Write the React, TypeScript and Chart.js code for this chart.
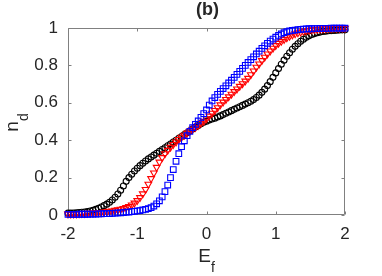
import React, { useEffect, useRef } from 'react';
import { Chart, registerables } from 'chart.js';

Chart.register(...registerables);

// Fermi level E_f (x values)
const E = [
  -2.0, -1.96, -1.92, -1.88, -1.84, -1.8, -1.76, -1.72, -1.68, -1.64,
  -1.6, -1.56, -1.52, -1.48, -1.44, -1.4, -1.36, -1.32, -1.28, -1.24,
  -1.2, -1.16, -1.12, -1.08, -1.04, -1.0, -0.96, -0.92, -0.88, -0.84,
  -0.8, -0.76, -0.72, -0.68, -0.64, -0.6, -0.56, -0.52, -0.48, -0.44,
  -0.4, -0.36, -0.32, -0.28, -0.24, -0.2, -0.16, -0.12, -0.08, -0.04,
  0.0,
  0.04, 0.08, 0.12, 0.16, 0.2, 0.24, 0.28, 0.32, 0.36, 0.4,
  0.44, 0.48, 0.52, 0.56, 0.6, 0.64, 0.68, 0.72, 0.76, 0.8,
  0.84, 0.88, 0.92, 0.96, 1.0, 1.04, 1.08, 1.12, 1.16, 1.2,
  1.24, 1.28, 1.32, 1.36, 1.4, 1.44, 1.48, 1.52, 1.56, 1.6,
  1.64, 1.68, 1.72, 1.76, 1.8, 1.84, 1.88, 1.92, 1.96, 2.0,
];

// n_d, black circles
const nBlack = [
  0.010, 0.010, 0.011, 0.012, 0.013, 0.015, 0.016, 0.018, 0.021, 0.025,
  0.030, 0.036, 0.043, 0.050, 0.058, 0.068, 0.080, 0.095, 0.112, 0.132,
  0.155, 0.180, 0.200, 0.218, 0.235, 0.250, 0.264, 0.277, 0.289, 0.300,
  0.310, 0.320, 0.330, 0.340, 0.350, 0.360, 0.370, 0.380, 0.390, 0.400,
  0.410, 0.420, 0.430, 0.440, 0.450, 0.460, 0.470, 0.479, 0.488, 0.496,
  0.502,
  0.508, 0.513, 0.518, 0.524, 0.530, 0.537, 0.544, 0.551, 0.558, 0.565,
  0.572, 0.579, 0.586, 0.593, 0.600, 0.608, 0.617, 0.628, 0.641, 0.656,
  0.673, 0.692, 0.713, 0.736, 0.760, 0.783, 0.806, 0.828, 0.849, 0.868,
  0.886, 0.902, 0.916, 0.929, 0.940, 0.950, 0.958, 0.965, 0.970, 0.975,
  0.978, 0.981, 0.983, 0.985, 0.986, 0.987, 0.988, 0.989, 0.990, 0.990,
];

// n_d, red triangles
const nRed = [
  0.005, 0.005, 0.006, 0.006, 0.007, 0.008, 0.008, 0.009, 0.010, 0.011,
  0.012, 0.013, 0.014, 0.016, 0.018, 0.020, 0.022, 0.025, 0.028, 0.031,
  0.035, 0.040, 0.046, 0.054, 0.064, 0.077, 0.093, 0.113, 0.137, 0.165,
  0.195, 0.225, 0.255, 0.283, 0.307, 0.328, 0.346, 0.362, 0.377, 0.391,
  0.404, 0.416, 0.427, 0.438, 0.448, 0.458, 0.468, 0.479, 0.490, 0.502,
  0.515,
  0.529, 0.544, 0.559, 0.574, 0.589, 0.604, 0.618, 0.632, 0.646, 0.660,
  0.674, 0.688, 0.702, 0.716, 0.731, 0.750, 0.770, 0.790, 0.808, 0.826,
  0.844, 0.861, 0.877, 0.892, 0.906, 0.918, 0.929, 0.939, 0.948, 0.956,
  0.963, 0.969, 0.974, 0.978, 0.982, 0.985, 0.988, 0.990, 0.992, 0.993,
  0.994, 0.995, 0.996, 0.997, 0.997, 0.998, 0.998, 0.999, 0.999, 0.999,
];

// n_d, blue squares
const nBlue = [
  0.003, 0.003, 0.003, 0.003, 0.004, 0.004, 0.004, 0.004, 0.005, 0.005,
  0.005, 0.006, 0.006, 0.007, 0.007, 0.008, 0.009, 0.010, 0.011, 0.012,
  0.013, 0.015, 0.016, 0.018, 0.020, 0.022, 0.024, 0.027, 0.030, 0.034,
  0.040, 0.048, 0.060, 0.076, 0.097, 0.125, 0.160, 0.200, 0.243, 0.287,
  0.328, 0.365, 0.397, 0.424, 0.447, 0.467, 0.485, 0.503, 0.522, 0.542,
  0.562,
  0.588, 0.610, 0.628, 0.645, 0.661, 0.676, 0.691, 0.706, 0.721, 0.736,
  0.752, 0.768, 0.784, 0.800, 0.816, 0.831, 0.846, 0.861, 0.876, 0.891,
  0.905, 0.918, 0.930, 0.941, 0.951, 0.960, 0.968, 0.975, 0.980, 0.984,
  0.987, 0.989, 0.991, 0.993, 0.994, 0.995, 0.996, 0.996, 0.997, 0.997,
  0.998, 0.998, 0.998, 0.998, 0.999, 0.999, 0.999, 0.999, 0.999, 0.999,
];

const xTicks = [-2, -1, 0, 1, 2];
const yTicks = [0, 0.2, 0.4, 0.6, 0.8, 1];
const titleText = '(b)';
const xTitle = { main: 'E', sub: 'f' };
const yTitle = { main: 'n', sub: 'd' };

const FONT = '"Liberation Sans", Arial, Helvetica, sans-serif';
const TEXT = '#262626';
const AXIS = '#808080';
const W = 382;
const H = 276;

export default function App() {
  const ref = useRef<HTMLCanvasElement>(null);

  useEffect(() => {
    const canvas = ref.current;
    if (!canvas) return;
    const pts = (ys: number[]) => E.map((x, i) => ({ x, y: ys[i] }));

    const decor = {
      id: 'decor',
      beforeDatasetsDraw(chart: any) {
        const { ctx, chartArea: a, scales } = chart;
        const L = Math.round(a.left) + 0.5;
        const R = Math.round(a.right) - 0.5;
        const T = Math.round(a.top) + 0.5;
        const B = Math.round(a.bottom) - 0.5;
        const len = 3;
        ctx.save();
        ctx.strokeStyle = AXIS;
        ctx.lineWidth = 1;
        ctx.beginPath();
        ctx.rect(L, T, R - L, B - T);
        xTicks.forEach((v) => {
          const px = Math.round(scales.x.getPixelForValue(v)) + 0.5;
          ctx.moveTo(px, B);
          ctx.lineTo(px, B - len);
          ctx.moveTo(px, T);
          ctx.lineTo(px, T + len);
        });
        yTicks.forEach((v) => {
          const py = Math.round(scales.y.getPixelForValue(v)) + 0.5;
          ctx.moveTo(L, py);
          ctx.lineTo(L + len, py);
          ctx.moveTo(R, py);
          ctx.lineTo(R - len, py);
        });
        ctx.stroke();
        ctx.restore();
      },
      afterDraw(chart: any) {
        const { ctx, chartArea: a } = chart;
        ctx.save();
        ctx.fillStyle = TEXT;
        ctx.textBaseline = 'alphabetic';
        // title
        ctx.font = `bold 18px ${FONT}`;
        ctx.textAlign = 'center';
        ctx.fillText(titleText, (a.left + a.right) / 2 + 1, 15);
        // x title with subscript
        ctx.textAlign = 'left';
        ctx.font = `19px ${FONT}`;
        const eW = ctx.measureText(xTitle.main).width;
        ctx.font = `14px ${FONT}`;
        const fW = ctx.measureText(xTitle.sub).width;
        const x0 = (a.left + a.right) / 2 - (eW + fW) / 2;
        ctx.font = `19px ${FONT}`;
        ctx.fillText(xTitle.main, x0, 262);
        ctx.font = `14px ${FONT}`;
        ctx.fillText(xTitle.sub, x0 + eW, 271.5);
        // y title with subscript (rotated)
        ctx.font = `19px ${FONT}`;
        const nW = ctx.measureText(yTitle.main).width;
        ctx.font = `14px ${FONT}`;
        const dW = ctx.measureText(yTitle.sub).width;
        const yc = (a.top + a.bottom) / 2 + 1;
        ctx.translate(18, yc + (nW + dW) / 2);
        ctx.rotate(-Math.PI / 2);
        ctx.font = `19px ${FONT}`;
        ctx.fillText(yTitle.main, 0, 0);
        ctx.font = `14px ${FONT}`;
        ctx.fillText(yTitle.sub, nW, 9.5);
        ctx.restore();
      },
    };

    const chart = new Chart(canvas, {
      type: 'scatter',
      data: {
        datasets: [
          {
            label: 'blue',
            data: pts(nBlue),
            pointStyle: 'rect',
            pointRadius: 4,
            borderColor: '#0000ff',
            backgroundColor: 'rgba(0,0,0,0)',
            borderWidth: 1.1,
            showLine: false,
            clip: false,
          } as any,
          {
            label: 'red',
            data: pts(nRed),
            pointStyle: 'triangle',
            rotation: 180,
            pointRadius: 3.9,
            borderColor: '#ff0000',
            backgroundColor: 'rgba(0,0,0,0)',
            borderWidth: 1.1,
            showLine: false,
            clip: false,
          } as any,
          {
            label: 'black',
            data: pts(nBlack),
            pointStyle: 'circle',
            pointRadius: 3,
            borderColor: '#000000',
            backgroundColor: 'rgba(0,0,0,0)',
            borderWidth: 1.1,
            showLine: false,
            clip: false,
          } as any,
        ],
      },
      options: {
        responsive: false,
        animation: false,
        devicePixelRatio: 1,
        events: [],
        layout: { padding: { left: 0, right: 37, top: 28, bottom: 0 } },
        plugins: {
          legend: { display: false },
          title: { display: false },
          tooltip: { enabled: false },
        },
        scales: {
          x: {
            type: 'linear',
            min: -2,
            max: 2,
            afterBuildTicks: (s: any) => {
              s.ticks = xTicks.map((v) => ({ value: v }));
            },
            afterFit: (s: any) => {
              s.height = 61;
            },
            grid: { display: false, drawTicks: false },
            border: { display: false },
            ticks: {
              color: TEXT,
              font: { family: FONT, size: 17 },
              padding: 9,
              maxRotation: 0,
              autoSkip: false,
              callback: (v: any) => String(v),
            },
          },
          y: {
            type: 'linear',
            min: 0,
            max: 1,
            afterBuildTicks: (s: any) => {
              s.ticks = yTicks.map((v) => ({ value: v }));
            },
            afterFit: (s: any) => {
              s.width = 68;
            },
            grid: { display: false, drawTicks: false },
            border: { display: false },
            ticks: {
              color: TEXT,
              font: { family: FONT, size: 17 },
              padding: 10,
              autoSkip: false,
              callback: (v: any) => String(Math.round(Number(v) * 10) / 10),
            },
          },
        },
      },
      plugins: [decor],
    } as any);

    return () => chart.destroy();
  }, []);

  return (
    <div style={{ position: 'fixed', left: 0, top: 0, width: W, height: H, background: '#fff' }}>
      <canvas ref={ref} width={W} height={H} style={{ display: 'block', width: W, height: H }} />
    </div>
  );
}
